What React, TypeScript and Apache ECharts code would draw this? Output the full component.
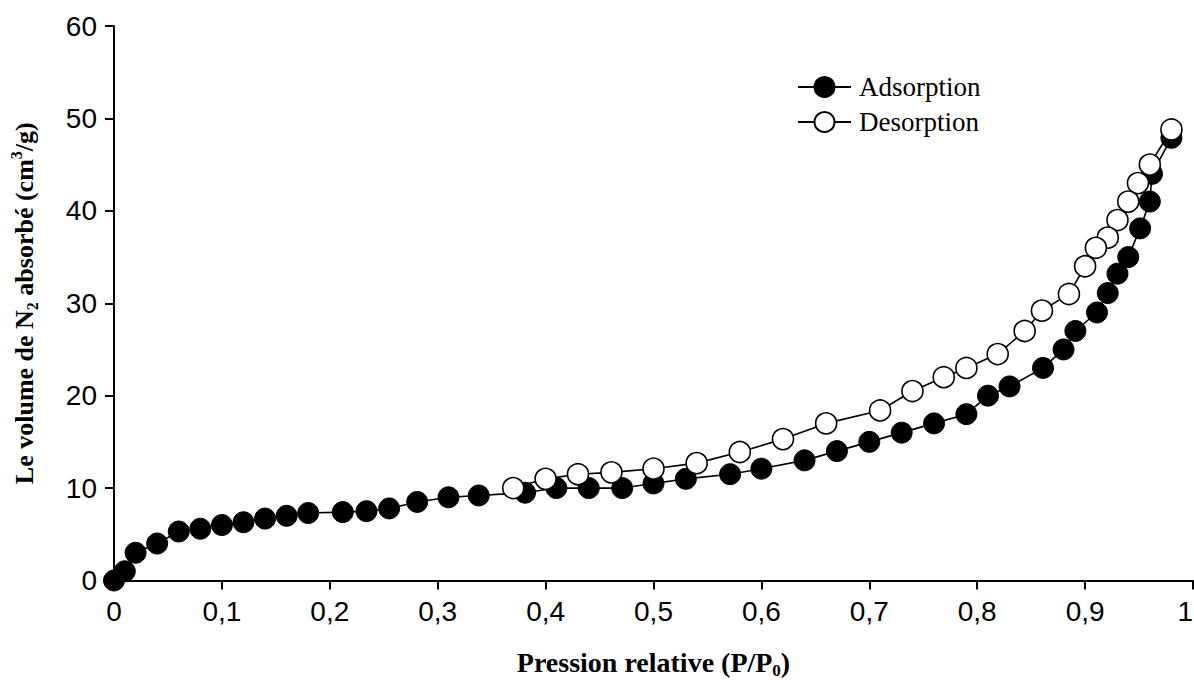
import React, { useEffect, useRef } from "react";
import * as echarts from "echarts";

// N2 isotherm: relative pressure P/P0 vs adsorbed volume (cm3/g)
const adsorptionP: number[] = [
  0, 0.01, 0.02, 0.04, 0.06, 0.08, 0.1, 0.12, 0.14, 0.16, 0.18, 0.212, 0.234, 0.255, 0.281,
  0.31, 0.338, 0.381, 0.41, 0.44, 0.471, 0.5, 0.53, 0.571, 0.6, 0.64, 0.67, 0.7, 0.73,
  0.76, 0.79, 0.81, 0.83, 0.861, 0.88, 0.891, 0.911, 0.921, 0.93, 0.94, 0.951, 0.96,
  0.962, 0.98,
];
const adsorptionV: number[] = [
  0, 1.0, 3.0, 4.0, 5.3, 5.6, 6.0, 6.3, 6.7, 7.0, 7.3, 7.4, 7.5, 7.8, 8.5,
  9.0, 9.2, 9.5, 10.0, 10.0, 10.0, 10.5, 11.0, 11.5, 12.1, 13.0, 14.0, 15.0, 16.0,
  17.0, 18.0, 20.0, 21.0, 23.0, 25.0, 27.0, 29.0, 31.1, 33.2, 35.0, 38.1, 41.0,
  44.0, 47.9,
];

const desorptionP: number[] = [
  0.98, 0.96, 0.949, 0.94, 0.93, 0.921, 0.91, 0.9, 0.885, 0.86, 0.844, 0.819, 0.79,
  0.769, 0.74, 0.71, 0.66, 0.62, 0.58, 0.54, 0.5, 0.461, 0.43, 0.4, 0.37,
];
const desorptionV: number[] = [
  48.8, 45.0, 43.0, 41.0, 39.0, 37.1, 36.0, 34.0, 31.0, 29.2, 27.0, 24.5, 23.0,
  22.0, 20.5, 18.4, 17.0, 15.3, 13.9, 12.7, 12.1, 11.7, 11.5, 11.0, 10.0,
];

const seriesNames = ["Adsorption", "Desorption"];

const pair = (xs: number[], ys: number[]) => xs.map((x, i) => [x, ys[i]]);

const SERIF = "'Liberation Serif', 'Times New Roman', serif";
const SANS = "'Liberation Sans', Arial, sans-serif";

export default function App() {
  const ref = useRef<HTMLDivElement>(null);

  useEffect(() => {
    if (!ref.current) return;
    document.body.style.margin = "0";
    document.body.style.overflow = "hidden";
    const chart = echarts.init(ref.current, null, { renderer: "svg" });

    const axisCommon = {
      axisLine: { show: true, lineStyle: { color: "#000", width: 2 } },
      axisTick: { show: true, length: 9, lineStyle: { color: "#000", width: 2 } },
      splitLine: { show: false },
    };

    chart.setOption({
      animation: false,
      backgroundColor: "#fff",
      grid: {
        left: 114,
        right: 1,
        top: 26,
        bottom: 99.5,
        containLabel: false,
        outerBoundsMode: "none",
      },
      legend: {
        orient: "vertical",
        left: 792,
        top: 68.5,
        itemWidth: 53,
        itemHeight: 25,
        itemGap: 8,
        data: seriesNames,
        textStyle: {
          fontFamily: SERIF,
          fontSize: 27,
          lineHeight: 25,
          color: "#000",
          padding: [0, 0, 0, 3],
        },
      },
      xAxis: {
        type: "value",
        min: 0,
        max: 1,
        interval: 0.1,
        ...axisCommon,
        axisLabel: {
          margin: 17,
          fontFamily: SANS,
          fontSize: 28,
          color: "#000",
          showMaxLabel: true,
          alignMaxLabel: "right",
          formatter: (v: number) => String(Math.round(v * 10) / 10).replace(".", ","),
        },
        name: "Pression relative (P/P{sub|0})",
        nameLocation: "middle",
        nameGap: 66,
        nameTextStyle: {
          fontFamily: SERIF,
          fontWeight: "bold",
          fontSize: 28,
          color: "#000",
          lineHeight: 32,
          rich: {
            sub: {
              fontFamily: SERIF,
              fontWeight: "bold",
              fontSize: 17,
              color: "#000",
              lineHeight: 16,
              verticalAlign: "bottom",
            },
          },
        },
      },
      yAxis: {
        type: "value",
        min: 0,
        max: 60,
        interval: 10,
        ...axisCommon,
        axisLabel: {
          margin: 17,
          fontFamily: SANS,
          fontSize: 28,
          color: "#000",
        },
        name: "Le volume de N{sub|2} absorbé (cm{sup|3}/g)",
        nameLocation: "middle",
        nameGap: 74,
        nameRotate: 90,
        nameTextStyle: {
          fontFamily: SERIF,
          fontWeight: "bold",
          fontSize: 26,
          color: "#000",
          lineHeight: 32,
          rich: {
            sub: {
              fontFamily: SERIF,
              fontWeight: "bold",
              fontSize: 16,
              color: "#000",
              lineHeight: 16,
              verticalAlign: "bottom",
            },
            sup: {
              fontFamily: SERIF,
              fontWeight: "bold",
              fontSize: 16,
              color: "#000",
              lineHeight: 16,
              verticalAlign: "top",
            },
          },
        },
      },
      series: [
        {
          name: seriesNames[0],
          type: "line",
          data: pair(adsorptionP, adsorptionV),
          symbol: "circle",
          symbolSize: 21,
          lineStyle: { color: "#000", width: 1.6 },
          itemStyle: { color: "#000", borderColor: "#000", borderWidth: 1 },
        },
        {
          name: seriesNames[1],
          type: "line",
          data: pair(desorptionP, desorptionV),
          symbol: "circle",
          symbolSize: 21,
          lineStyle: { color: "#000", width: 1.6 },
          itemStyle: { color: "#fff", borderColor: "#000", borderWidth: 1.6 },
        },
      ],
    });

    return () => chart.dispose();
  }, []);

  return (
    <div
      style={{
        position: "fixed",
        left: 0,
        top: 0,
        width: 1194,
        height: 680,
        overflow: "hidden",
        background: "#fff",
      }}
    >
      <div ref={ref} style={{ width: 1194, height: 680 }} />
    </div>
  );
}
